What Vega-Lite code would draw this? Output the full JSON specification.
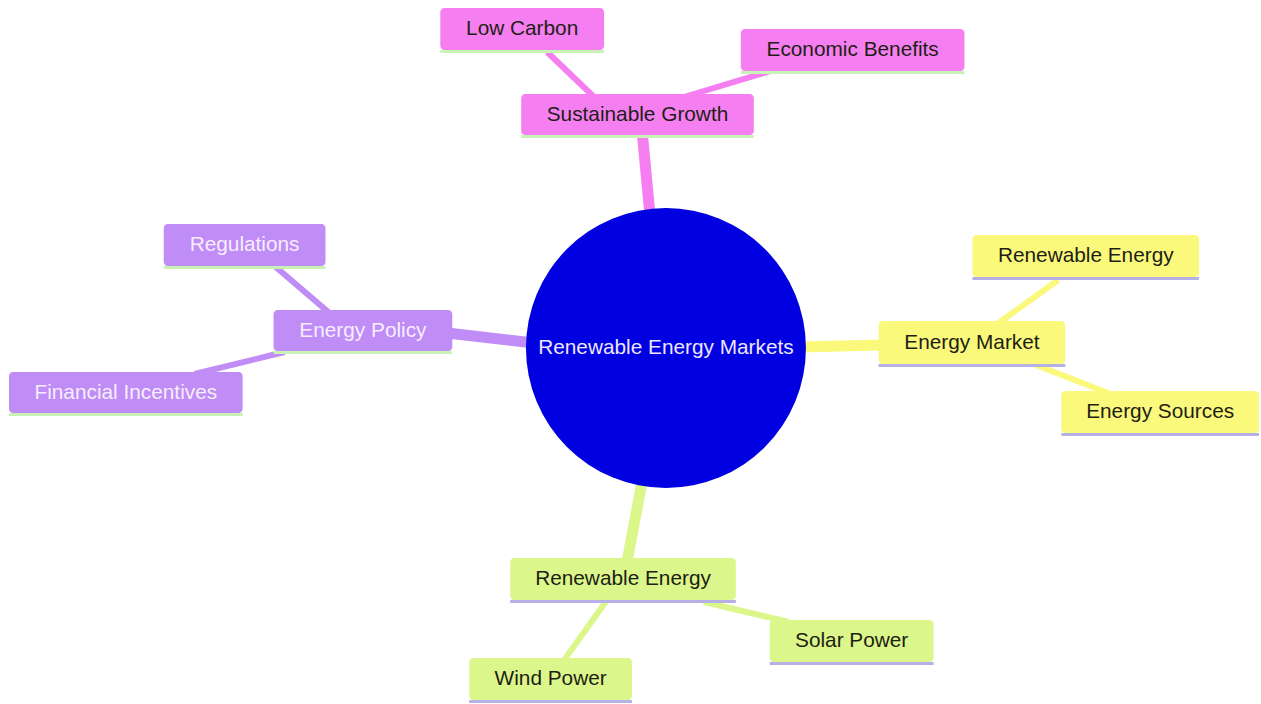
{
  "$schema": "https://vega.github.io/schema/vega-lite/v6.json",
  "width": 1261,
  "height": 704,
  "padding": 0,
  "autosize": {"type": "fit", "contains": "padding"},
  "background": "white",
  "config": {"view": {"stroke": null}, "font": "Liberation Sans"},
  "datasets": {
    "nodes": [
      {"name": "Low Carbon", "branch": "growth", "x1": 441, "x2": 605, "y1": 8, "y2": 50, "cx": 523, "cy": 29},
      {"name": "Economic Benefits", "branch": "growth", "x1": 742, "x2": 966, "y1": 29, "y2": 71, "cx": 854, "cy": 50},
      {"name": "Sustainable Growth", "branch": "growth", "x1": 522, "x2": 755, "y1": 94, "y2": 135, "cx": 638.5, "cy": 114.5},
      {"name": "Regulations", "branch": "policy", "x1": 164, "x2": 326, "y1": 224, "y2": 266, "cx": 245, "cy": 245},
      {"name": "Energy Policy", "branch": "policy", "x1": 274, "x2": 453, "y1": 310, "y2": 351, "cx": 363.5, "cy": 330.5},
      {"name": "Financial Incentives", "branch": "policy", "x1": 9, "x2": 243, "y1": 372, "y2": 413, "cx": 126, "cy": 392.5},
      {"name": "Renewable Energy", "branch": "market", "x1": 974, "x2": 1201, "y1": 235, "y2": 277, "cx": 1087.5, "cy": 256},
      {"name": "Energy Market", "branch": "market", "x1": 880, "x2": 1067, "y1": 321, "y2": 364, "cx": 973.5, "cy": 342.5},
      {"name": "Energy Sources", "branch": "market", "x1": 1063, "x2": 1261, "y1": 391, "y2": 433, "cx": 1162, "cy": 412},
      {"name": "Renewable Energy", "branch": "renew", "x1": 511, "x2": 737, "y1": 558, "y2": 600, "cx": 624, "cy": 579},
      {"name": "Solar Power", "branch": "renew", "x1": 771, "x2": 935, "y1": 620, "y2": 662, "cx": 853, "cy": 641},
      {"name": "Wind Power", "branch": "renew", "x1": 470, "x2": 633, "y1": 658, "y2": 700, "cx": 551.5, "cy": 679}
    ],
    "edges": [
      {"branch": "growth", "level": 1, "xa": 651, "ya": 215, "xb": 643, "yb": 130},
      {"branch": "growth", "level": 2, "xa": 595, "ya": 97, "xb": 548, "yb": 52},
      {"branch": "growth", "level": 2, "xa": 685, "ya": 97, "xb": 775, "yb": 70},
      {"branch": "policy", "level": 1, "xa": 535, "ya": 343, "xb": 448, "yb": 333},
      {"branch": "policy", "level": 2, "xa": 330, "ya": 313, "xb": 275, "yb": 266},
      {"branch": "policy", "level": 2, "xa": 285, "ya": 352, "xb": 195, "yb": 374},
      {"branch": "market", "level": 1, "xa": 800, "ya": 347, "xb": 885, "yb": 345},
      {"branch": "market", "level": 2, "xa": 1000, "ya": 323, "xb": 1060, "yb": 280},
      {"branch": "market", "level": 2, "xa": 1035, "ya": 364, "xb": 1110, "yb": 393},
      {"branch": "renew", "level": 1, "xa": 643, "ya": 482, "xb": 628, "yb": 562},
      {"branch": "renew", "level": 2, "xa": 608, "ya": 600, "xb": 565, "yb": 660},
      {"branch": "renew", "level": 2, "xa": 705, "ya": 602, "xb": 790, "yb": 622}
    ],
    "centre": [
      {"name": "Renewable Energy Markets", "x": 667, "y": 348}
    ]
  },
  "layer": [
    {
      "data": {"name": "edges"},
      "transform": [{"filter": "datum.level == 1"}],
      "mark": {"type": "rule", "strokeWidth": 11, "strokeCap": "butt"},
      "encoding": {
        "x": {"field": "xa", "type": "quantitative", "scale": {"domain": [0, 1261], "nice": false, "zero": false}, "axis": null},
        "y": {"field": "ya", "type": "quantitative", "scale": {"domain": [0, 704], "nice": false, "zero": false, "reverse": true}, "axis": null},
        "x2": {"field": "xb"},
        "y2": {"field": "yb"},
        "color": {"field": "branch", "type": "nominal", "legend": null,
          "scale": {"domain": ["growth", "policy", "market", "renew"], "range": ["#F57FF0", "#C08CF5", "#FAF97C", "#DBF68A"]}}
      }
    },
    {
      "data": {"name": "edges"},
      "transform": [{"filter": "datum.level == 2"}],
      "mark": {"type": "rule", "strokeWidth": 6, "strokeCap": "butt"},
      "encoding": {
        "x": {"field": "xa", "type": "quantitative"},
        "y": {"field": "ya", "type": "quantitative"},
        "x2": {"field": "xb"},
        "y2": {"field": "yb"},
        "color": {"field": "branch", "type": "nominal", "legend": null}
      }
    },
    {
      "data": {"name": "centre"},
      "mark": {"type": "point", "shape": "circle", "filled": true, "size": 78400, "color": "#0000E0", "opacity": 1, "strokeWidth": 0},
      "encoding": {
        "x": {"field": "x", "type": "quantitative"},
        "y": {"field": "y", "type": "quantitative"}
      }
    },
    {
      "data": {"name": "centre"},
      "mark": {"type": "text", "fontSize": 20.8, "color": "#ECE6FF", "align": "center", "baseline": "middle"},
      "encoding": {
        "x": {"field": "x", "type": "quantitative"},
        "y": {"field": "y", "type": "quantitative"},
        "text": {"field": "name"}
      }
    },
    {
      "data": {"name": "nodes"},
      "transform": [{"filter": "datum.branch == 'growth' || datum.branch == 'policy'"}],
      "mark": {"type": "rule", "strokeWidth": 3, "color": "#C9F3B4", "yOffset": 1.5},
      "encoding": {
        "x": {"field": "x1", "type": "quantitative"},
        "x2": {"field": "x2"},
        "y": {"field": "y2", "type": "quantitative"}
      }
    },
    {
      "data": {"name": "nodes"},
      "transform": [{"filter": "datum.branch == 'market' || datum.branch == 'renew'"}],
      "mark": {"type": "rule", "strokeWidth": 3, "color": "#B7B0E6", "yOffset": 1.5},
      "encoding": {
        "x": {"field": "x1", "type": "quantitative"},
        "x2": {"field": "x2"},
        "y": {"field": "y2", "type": "quantitative"}
      }
    },
    {
      "data": {"name": "nodes"},
      "mark": {"type": "rect", "cornerRadius": 4},
      "encoding": {
        "x": {"field": "x1", "type": "quantitative"},
        "x2": {"field": "x2"},
        "y": {"field": "y1", "type": "quantitative"},
        "y2": {"field": "y2"},
        "color": {"field": "branch", "type": "nominal", "legend": null}
      }
    },
    {
      "data": {"name": "nodes"},
      "transform": [{"filter": "datum.branch == 'policy'"}],
      "mark": {"type": "text", "fontSize": 20.8, "color": "#F6EEFF", "align": "center", "baseline": "middle"},
      "encoding": {
        "x": {"field": "cx", "type": "quantitative"},
        "y": {"field": "cy", "type": "quantitative"},
        "text": {"field": "name"}
      }
    },
    {
      "data": {"name": "nodes"},
      "transform": [{"filter": "datum.branch != 'policy'"}],
      "mark": {"type": "text", "fontSize": 20.8, "color": "#1E1E14", "align": "center", "baseline": "middle"},
      "encoding": {
        "x": {"field": "cx", "type": "quantitative"},
        "y": {"field": "cy", "type": "quantitative"},
        "text": {"field": "name"}
      }
    }
  ]
}
